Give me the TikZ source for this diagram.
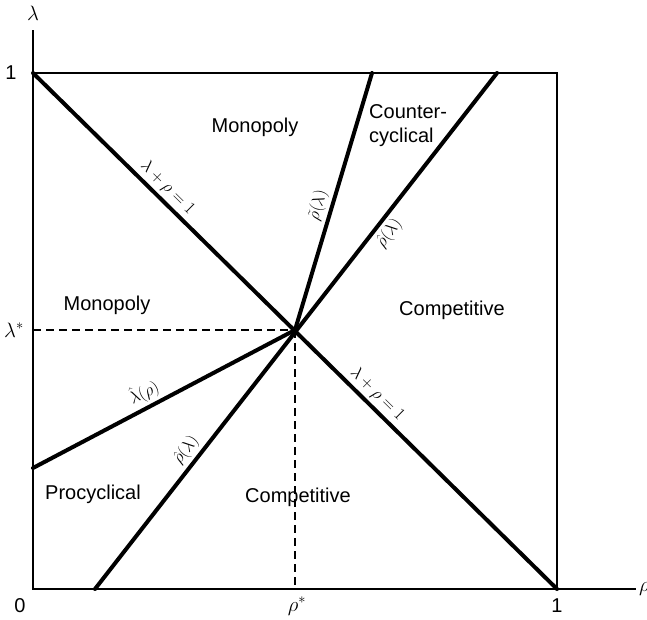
\documentclass[tikz,border=0pt]{standalone}
\usepackage{fontspec}
\setmainfont{Liberation Sans}
\begin{document}
\begin{tikzpicture}[x=1pt,y=-1pt,
  region/.style={font=\fontsize{20}{24}\selectfont, inner sep=0pt},
  axislbl/.style={font=\fontsize{20}{22}\selectfont, inner sep=0pt},
  curvelbl/.style={font=\fontsize{19}{21}\selectfont, inner sep=3pt, sloped},
  heavy/.style={line width=4pt, line cap=round},
  frame/.style={line width=1.6pt},
  axisline/.style={line width=2pt},
  guide/.style={line width=1.2pt, dash pattern=on 8pt off 5pt}]
\useasboundingbox (0,0) rectangle (647,619);
% key points
\coordinate (O) at (33,589);
\coordinate (Ytop) at (33,30);
\coordinate (Xend) at (636,589);
\coordinate (TL) at (33,73);
\coordinate (TR) at (557,73);
\coordinate (BR) at (557,589);
\coordinate (C) at (295,330);
\coordinate (Ls) at (33,330);
\coordinate (Rs) at (295,589);
\coordinate (Rtil) at (372,73);
\coordinate (RhatTop) at (497,73);
\coordinate (RhatBot) at (95,589);
\coordinate (Lhat) at (33,468);
% axes and frame
\draw[axisline] (Ytop) -- (O) -- (Xend);
\draw[frame] (TL) -- (TR) -- (BR);
% guides
\draw[guide] (Ls) -- (C);
\draw[guide] (C) -- (Rs);
% curves
\draw[heavy] (TL) -- (BR)
  node[curvelbl, pos=0.24, above] {$\lambda+\rho=1$}
  node[curvelbl, pos=0.64, above] {$\lambda+\rho=1$};
\draw[heavy] (C) -- (Rtil)
  node[curvelbl, pos=0.47, above] {$\tilde{\rho}(\lambda)$};
\draw[heavy] (RhatBot) -- (RhatTop)
  node[curvelbl, pos=0.253, above] {$\hat{\rho}(\lambda)$}
  node[curvelbl, pos=0.705, below] {$\hat{\rho}(\lambda)$};
\draw[heavy] (Lhat) -- (C)
  node[curvelbl, pos=0.45, above] {$\hat{\lambda}(\rho)$};
% axis labels
\node[axislbl] (lam) at (33,13) {$\lambda$};
\node[axislbl] (one1) at (11,73) {1};
\node[axislbl] (lamstar) at (14,330) {$\lambda^*$};
\node[axislbl] (zero) at (20,606) {0};
\node[axislbl] (rhostar) at (297,606) {$\rho^*$};
\node[axislbl] (one2) at (557,606) {1};
\node[axislbl, anchor=west] (rho) at (639,589) {$\rho$};
% region labels
\node[region] (mono1) at (255,127) {Monopoly};
\node[region] (mono2) at (107,305) {Monopoly};
\node[region, align=left, anchor=west] (counter) at (369,126) {Counter-\\cyclical};
\node[region] (comp1) at (452,310) {Competitive};
\node[region] (comp2) at (298,497) {Competitive};
\node[region] (pro) at (93,494) {Procyclical};
\end{tikzpicture}
\end{document}
